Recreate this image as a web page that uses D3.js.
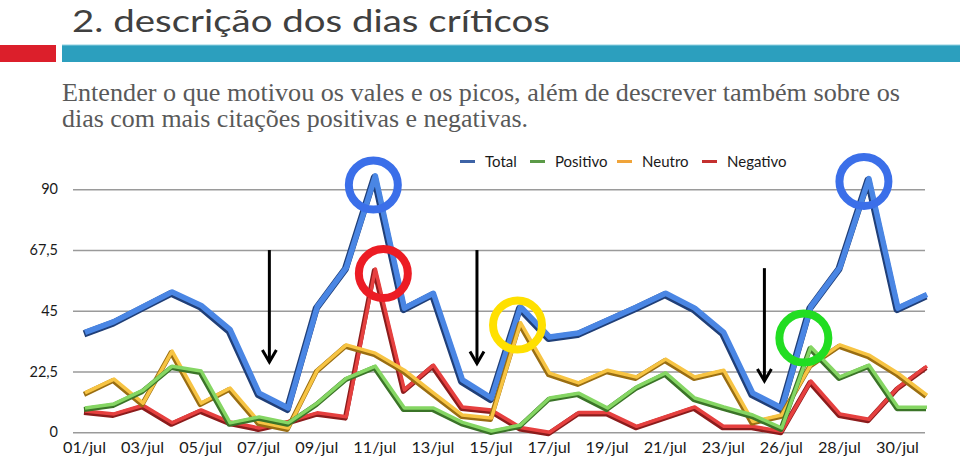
<!DOCTYPE html>
<html lang="pt">
<head>
	<meta charset="UTF-8">
	<title>2. descrição dos dias críticos</title>
	<style>
		html, body {
			margin: 0;
			background: #fff;
		}
		svg text {
			font-family: Lato, 'Noto Sans', sans-serif;
		}
	</style>
	<script src="https://d3js.org/d3.v7.min.js"></script>
</head>
<body>
	<svg id="container"></svg>
	<script>
		// dias do mês (o 25/jul não aparece no gráfico)
		const dias = ['01/jul', '02/jul', '03/jul', '04/jul', '05/jul', '06/jul', '07/jul', '08/jul', '09/jul', '10/jul',
			'11/jul', '12/jul', '13/jul', '14/jul', '15/jul', '16/jul', '17/jul', '18/jul', '19/jul', '20/jul',
			'21/jul', '22/jul', '23/jul', '24/jul', '26/jul', '27/jul', '28/jul', '29/jul', '30/jul', '31/jul'];

		const total = [37, 41, 46.5, 52, 47, 38, 14.5, 9, 46.5, 61, 95, 46, 51.5, 19.4, 12.7,
			46.5, 35.3, 36.8, 41.6, 46.4, 51.5, 46, 37, 14.5, 9, 46.5, 61, 94, 46, 51];
		const positivo = [9, 10.5, 15.6, 24.5, 22.7, 3.5, 5.7, 3.5, 10.8, 20, 24.5, 9, 9, 3.7, 0.5,
			2.7, 12.7, 14.5, 9, 16.8, 22, 12.7, 9.4, 6.4, 1.6, 31.6, 20.5, 24.9, 9.3, 9.3];
		const neutro = [14.6, 19.7, 10.8, 30.1, 10.8, 16.4, 3.8, 1.6, 23, 32.4, 29.3, 23, 14.6, 6.4, 5.3,
			40.6, 21.9, 18.3, 23, 20.5, 27.1, 20.5, 23, 4, 6.4, 25, 32.4, 28.6, 21.9, 13.8];
		const negativo = [7.9, 6.8, 10, 3.5, 8.3, 3.8, 1.6, 4, 7.2, 5.8, 60.5, 15.7, 24.9, 9.4, 8.3,
			1.8, 0, 7.3, 7.3, 2.2, 5.8, 9.4, 2.2, 2.2, 0.4, 19, 6.8, 4.8, 16.6, 24.5];

		const yTicks = [0, 22.5, 45, 67.5, 90];
		const legenda = ['Total', 'Positivo', 'Neutro', 'Negativo'];

		// marcações feitas à mão sobre o gráfico
		const circulos = [
			{ dia: '11/jul', valor: 91.6, dx: -2, cor: '#3b6fe9' },
			{ dia: '11/jul', valor: 58.8, dx: 8, cor: '#ec1c24' },
			{ dia: '16/jul', valor: 39.7, dx: -3, cor: '#ffe000' },
			{ dia: '27/jul', valor: 34.9, dx: -7, cor: '#22dd22' },
			{ dia: '29/jul', valor: 92.9, dx: -5, cor: '#3b6fe9' },
		];
		const setas = [
			{ pos: 6.35, de: 67.5, ate: 26 },
			{ pos: 13.5, de: 67.5, ate: 25.5 },
			{ pos: 23.4, de: 60.8, ate: 19 },
		];

		const config = {
			width: 960,
			height: 461,
			series: [
				{ nome: 'Total', valores: total, cor: '#4a86e4', borda: '#203f78', legenda: '#3d63a6', largura: 7 },
				{ nome: 'Negativo', valores: negativo, cor: '#e6403f', borda: '#8c1c1c', legenda: '#c4302f', largura: 5 },
				{ nome: 'Neutro', valores: neutro, cor: '#f7c443', borda: '#9a6e12', legenda: '#f0a43a', largura: 5 },
				{ nome: 'Positivo', valores: positivo, cor: '#85d663', borda: '#3b7428', legenda: '#5b9a47', largura: 5 },
			],
		};

		const svg = d3.select('#container')
			.attr('width', config.width)
			.attr('height', config.height);

		// cabeçalho do slide
		svg.append('text')
			.attr('x', 72).attr('y', 32)
			.attr('font-size', 31)
			.attr('fill', '#404040')
			.attr('textLength', 478).attr('lengthAdjust', 'spacingAndGlyphs')
			.text('2. descrição dos dias críticos');
		svg.append('rect').attr('x', 0).attr('y', 45).attr('width', 56).attr('height', 17).attr('fill', '#dc1f2b');
		svg.append('rect').attr('x', 62).attr('y', 45).attr('width', 898).attr('height', 17).attr('fill', '#2c9fbe');
		svg.append('line').attr('x1', 62).attr('x2', 960).attr('y1', 45).attr('y2', 45).attr('stroke', '#8fd0e0').attr('stroke-width', 1);

		const subtitulo = [
			{ texto: 'Entender o que motivou os vales e os picos, além de descrever também sobre os', y: 101, w: 838 },
			{ texto: 'dias com mais citações positivas e negativas.', y: 127, w: 466 },
		];
		svg.selectAll('text.sub')
			.data(subtitulo)
			.enter()
			.append('text')
			.attr('class', 'sub')
			.attr('x', 62).attr('y', (d) => d.y)
			.attr('font-size', 25)
			.attr('fill', '#595959')
			.style('font-family', "'Liberation Serif', 'DejaVu Serif', serif")
			.attr('textLength', (d) => d.w).attr('lengthAdjust', 'spacingAndGlyphs')
			.text((d) => d.texto);

		// escalas
		const x = d3.scalePoint().domain(dias).range([85, 927]);
		const xIdx = d3.scaleLinear().domain([0, dias.length - 1]).range([85, 927]);
		const y = d3.scaleLinear().domain([0, 90]).range([432.3, 189.3]);
		const pt = d3.formatLocale({ decimal: ',', thousands: '.', grouping: [3], currency: ['R$', ''] });
		const fmt = pt.format('~r');

		// grade e eixo y
		const yAxis = d3.axisLeft(y)
			.tickValues(yTicks)
			.tickSize(-(925 - 73))
			.tickPadding(15)
			.tickFormat((d) => fmt(d));
		const gy = svg.append('g')
			.attr('transform', 'translate(73,0)')
			.call(yAxis);
		gy.select('.domain').remove();
		gy.selectAll('.tick line').attr('stroke', '#9a9a9a').attr('stroke-width', 1.5);
		gy.selectAll('.tick text').attr('font-size', 14.5).attr('fill', '#1a1a1a');

		// eixo x: um rótulo a cada dois dias
		const xAxis = d3.axisBottom(x)
			.tickValues(dias.filter((d, i) => i % 2 === 0))
			.tickSize(0)
			.tickPadding(10);
		const gx = svg.append('g')
			.attr('transform', 'translate(0,432)')
			.call(xAxis);
		gx.select('.domain').remove();
		gx.selectAll('.tick text')
			.attr('font-size', 15.5)
			.attr('fill', '#1a1a1a')
			.attr('dx', -1)
			.attr('textLength', 43).attr('lengthAdjust', 'spacingAndGlyphs');

		// linhas "3D": sombra escura e a linha colorida por cima
		const linha = d3.line()
			.x((d, i) => x(dias[i]))
			.y((d) => y(d));
		config.series.forEach((s) => {
			svg.append('path')
				.attr('d', linha(s.valores))
				.attr('fill', 'none')
				.attr('stroke', s.borda)
				.attr('stroke-width', s.largura)
				.attr('stroke-linejoin', 'round')
				.attr('transform', 'translate(-1,1.5)');
			svg.append('path')
				.attr('d', linha(s.valores))
				.attr('fill', 'none')
				.attr('stroke', s.cor)
				.attr('stroke-width', s.largura - 1.5)
				.attr('stroke-linejoin', 'round');
		});

		// legenda
		const legX = [460, 530, 617, 702];
		const g = svg.append('g').attr('class', 'legenda');
		legenda.forEach((nome, i) => {
			const s = config.series.find((d) => d.nome === nome);
			g.append('line')
				.attr('x1', legX[i]).attr('x2', legX[i] + 15)
				.attr('y1', 161.5).attr('y2', 161.5)
				.attr('stroke', s.legenda).attr('stroke-width', 3);
			g.append('text')
				.attr('x', legX[i] + 25).attr('y', 166.5)
				.attr('font-size', 15)
				.attr('fill', '#1a1a1a')
				.text(nome);
		});

		// setas
		setas.forEach((s) => {
			const sx = xIdx(s.pos);
			const ya = y(s.de), yb = y(s.ate);
			const seta = svg.append('g')
				.attr('fill', 'none')
				.attr('stroke', '#000')
				.attr('stroke-width', 3);
			seta.append('line').attr('x1', sx).attr('x2', sx).attr('y1', ya).attr('y2', yb);
			seta.append('path')
				.attr('d', `M${sx - 7},${yb - 12}L${sx},${yb}L${sx + 7},${yb - 12}`)
				.attr('stroke-linejoin', 'miter');
		});

		// círculos de destaque
		svg.selectAll('circle.destaque')
			.data(circulos)
			.enter()
			.append('circle')
			.attr('class', 'destaque')
			.attr('cx', (d) => x(d.dia) + d.dx)
			.attr('cy', (d) => y(d.valor))
			.attr('r', 24.5)
			.attr('fill', 'none')
			.attr('stroke', (d) => d.cor)
			.attr('stroke-width', 8);
	</script>
</body>
</html>
